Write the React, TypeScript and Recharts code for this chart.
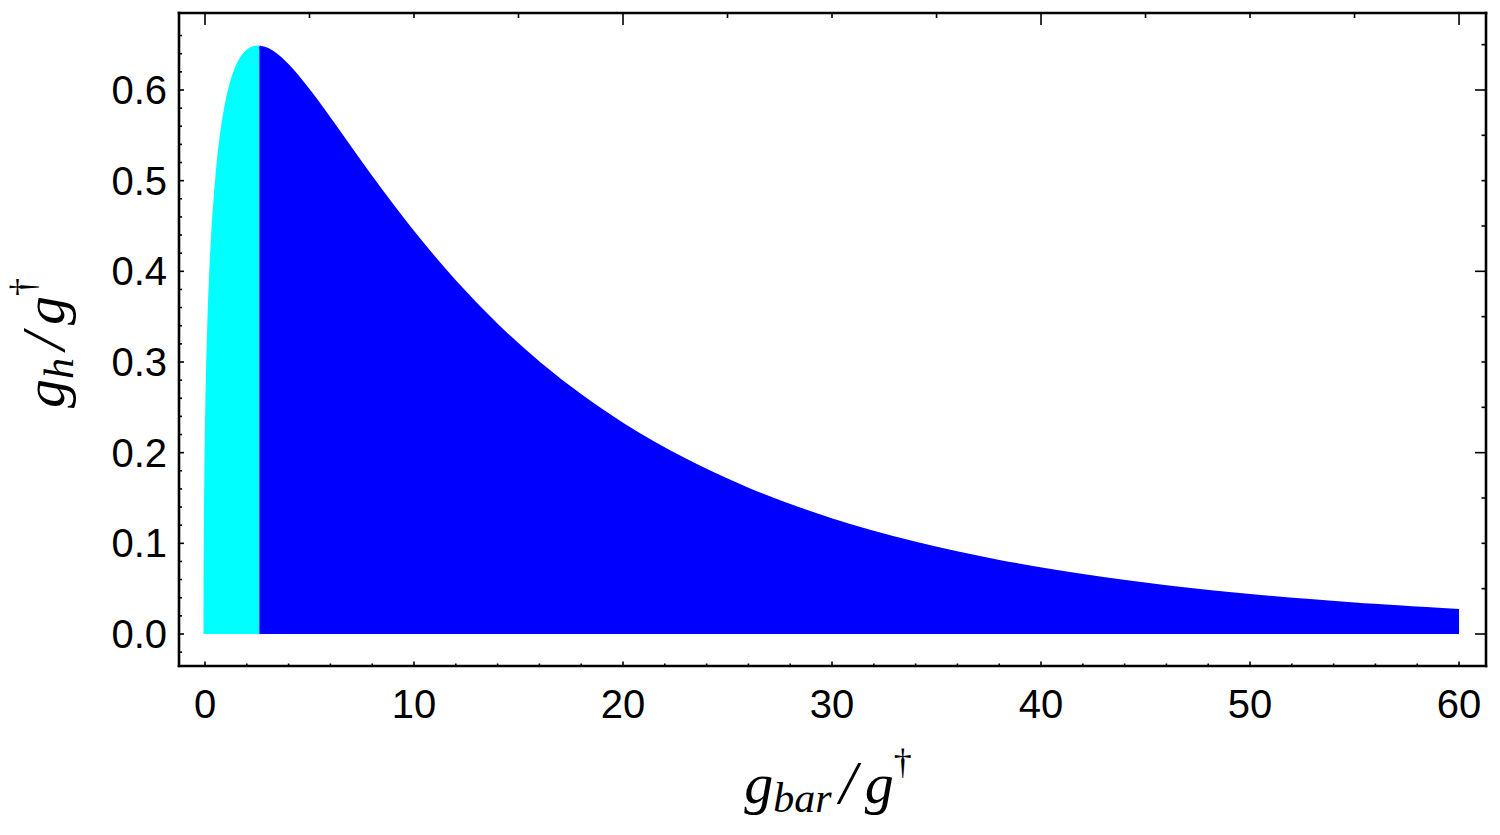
import React from 'react';
import { ComposedChart, Area, XAxis, YAxis } from 'recharts';

// g_h / g†, cyan part (0 .. 2.6) and blue part (2.6 .. 60)
const cyanX = [0, 0.005, 0.02, 0.05, 0.1, 0.2, 0.3, 0.4, 0.6, 0.8, 1.0, 1.25, 1.5, 1.75, 2.0, 2.3, 2.6];
const cyanY = [0, 0.0682, 0.1317, 0.1995, 0.2688, 0.3547, 0.4114, 0.4534, 0.513, 0.5533, 0.582, 0.6072, 0.6242, 0.6354, 0.6424, 0.6467, 0.6475];
const blueX = [2.6, 3, 3.5, 4, 5, 6, 7, 8, 9, 10, 12, 14, 16, 18, 20, 23, 26, 30, 34, 38, 42, 46, 50, 55, 60];
const blueY = [0.6475, 0.6449, 0.6371, 0.6261, 0.5983, 0.567, 0.5346, 0.5025, 0.4716, 0.442, 0.3877, 0.34, 0.2985, 0.2624, 0.2311, 0.1917, 0.1596, 0.1259, 0.1001, 0.0801, 0.0645, 0.0522, 0.0425, 0.0331, 0.026];

// tick sets
const bottomTicks = [0, 2, 4, 6, 8, 10, 12, 14, 16, 18, 20, 22, 24, 26, 28, 30, 32, 34, 36, 38, 40, 42, 44, 46, 48, 50, 52, 54, 56, 58, 60];
const bottomMajor = [0, 10, 20, 30, 40, 50, 60];
const topTicks = [0, 5, 10, 15, 20, 25, 30, 35, 40, 45, 50, 55, 60];
const topMajor = [0, 20, 40, 60];
const leftTicks = [-0.02, 0, 0.02, 0.04, 0.06, 0.08, 0.1, 0.12, 0.14, 0.16, 0.18, 0.2, 0.22, 0.24, 0.26, 0.28, 0.3, 0.32, 0.34, 0.36, 0.38, 0.4, 0.42, 0.44, 0.46, 0.48, 0.5, 0.52, 0.54, 0.56, 0.58, 0.6, 0.62, 0.64, 0.66];
const leftMajor = [0, 0.1, 0.2, 0.3, 0.4, 0.5, 0.6];
const leftLabels = ['0.0', '0.1', '0.2', '0.3', '0.4', '0.5', '0.6'];
const rightTicks = [0, 0.05, 0.1, 0.15, 0.2, 0.25, 0.3, 0.35, 0.4, 0.45, 0.5, 0.55, 0.6, 0.65];
const rightMajor = [0, 0.2, 0.4, 0.6];

const xDomain = [-1.244, 61.29];
const yDomain = [-0.0353, 0.6849];

const data = [
  ...cyanX.map((x, i) => ({ x, cyan: cyanY[i] })),
  ...blueX.map((x, i) => ({ x, blue: blueY[i] })),
];

const isIn = (arr: number[], v: number) => arr.some((a) => Math.abs(a - v) < 1e-9);
const labelFont = "'Liberation Sans', Arial, sans-serif";
const serif = "'Liberation Serif', 'Times New Roman', serif";

const BottomTick = (p: any) => {
  const v = p.payload.value;
  const major = isIn(bottomMajor, v);
  return (
    <g>
      <line x1={p.x} x2={p.x} y1={p.y} y2={p.y - (major ? 4.5 : 2.5)} stroke="#000" strokeWidth={1.6} />
      {major && (
        <text x={p.x} y={p.y + 52} textAnchor="middle" fontFamily={labelFont} fontSize={40} fill="#000">
          {String(v)}
        </text>
      )}
    </g>
  );
};

const TopTick = (p: any) => {
  const v = p.payload.value;
  const major = isIn(topMajor, v);
  return <line x1={p.x} x2={p.x} y1={p.y} y2={p.y + (major ? 12 : 5)} stroke="#000" strokeWidth={1.6} />;
};

const LeftTick = (p: any) => {
  const v = p.payload.value;
  const idx = leftMajor.findIndex((a) => Math.abs(a - v) < 1e-9);
  const major = idx >= 0;
  return (
    <g>
      <line x1={p.x} x2={p.x + (major ? 5 : 3)} y1={p.y} y2={p.y} stroke="#000" strokeWidth={1.6} />
      {major && (
        <text x={p.x - 12} y={p.y + 14} textAnchor="end" fontFamily={labelFont} fontSize={40} fill="#000">
          {leftLabels[idx]}
        </text>
      )}
    </g>
  );
};

const RightTick = (p: any) => {
  const v = p.payload.value;
  const major = isIn(rightMajor, v);
  return <line x1={p.x} x2={p.x - (major ? 11 : 4.5)} y1={p.y} y2={p.y} stroke="#000" strokeWidth={1.6} />;
};

const axisLine = { stroke: '#000', strokeWidth: 2.6, strokeLinecap: 'square' as const };

export default function App() {
  return (
    <div style={{ position: 'absolute', left: 0, top: 0, width: 1500, height: 835, background: '#fff' }}>
      <ComposedChart width={1500} height={835} data={data} margin={{ top: 0, right: 0, bottom: 0, left: 0 }}>
        <XAxis
          xAxisId="b"
          dataKey="x"
          type="number"
          orientation="bottom"
          domain={xDomain}
          allowDataOverflow
          ticks={bottomTicks}
          interval={0}
          height={169}
          tickSize={0}
          tickMargin={0}
          tickLine={false}
          axisLine={axisLine}
          tick={(p: any) => <BottomTick {...p} />}
        />
        <XAxis
          xAxisId="t"
          dataKey="x"
          type="number"
          orientation="top"
          domain={xDomain}
          allowDataOverflow
          ticks={topTicks}
          interval={0}
          height={13}
          tickSize={0}
          tickMargin={0}
          tickLine={false}
          axisLine={axisLine}
          tick={(p: any) => <TopTick {...p} />}
        />
        <YAxis
          yAxisId="l"
          type="number"
          orientation="left"
          domain={yDomain}
          allowDataOverflow
          ticks={leftTicks}
          interval={0}
          width={179}
          tickSize={0}
          tickMargin={0}
          tickLine={false}
          axisLine={axisLine}
          tick={(p: any) => <LeftTick {...p} />}
        />
        <YAxis
          yAxisId="r"
          type="number"
          orientation="right"
          domain={yDomain}
          allowDataOverflow
          ticks={rightTicks}
          interval={0}
          width={14}
          tickSize={0}
          tickMargin={0}
          tickLine={false}
          axisLine={axisLine}
          tick={(p: any) => <RightTick {...p} />}
        />
        <Area
          xAxisId="b"
          yAxisId="l"
          dataKey="cyan"
          type="monotone"
          baseValue={0}
          fill="#00FFFF"
          fillOpacity={1}
          stroke="#00FFFF"
          strokeWidth={3}
          isAnimationActive={false}
          dot={false}
          activeDot={false}
        />
        <Area
          xAxisId="b"
          yAxisId="l"
          dataKey="blue"
          type="monotone"
          baseValue={0}
          fill="#0000FF"
          fillOpacity={1}
          stroke="#0000FF"
          strokeWidth={3}
          isAnimationActive={false}
          dot={false}
          activeDot={false}
        />
        <text x={828} y={803} textAnchor="middle" fontFamily={serif} fontStyle="italic" fontSize={58} fill="#000">
          <tspan>g</tspan>
          <tspan fontSize={42} dy={9}>bar</tspan>
          <tspan fontSize={62} dy={-9} dx={8}>/</tspan>
          <tspan dx={8}>g</tspan>
          <tspan fontSize={36} dy={-29} fontStyle="normal">†</tspan>
        </text>
        <text
          transform="rotate(-90)"
          x={-343}
          y={64}
          textAnchor="middle"
          fontFamily={serif}
          fontStyle="italic"
          fontSize={58}
          fill="#000"
        >
          <tspan>g</tspan>
          <tspan fontSize={42} dy={9}>h</tspan>
          <tspan fontSize={62} dy={-9} dx={8}>/</tspan>
          <tspan dx={8}>g</tspan>
          <tspan fontSize={36} dy={-29} fontStyle="normal">†</tspan>
        </text>
      </ComposedChart>
    </div>
  );
}
